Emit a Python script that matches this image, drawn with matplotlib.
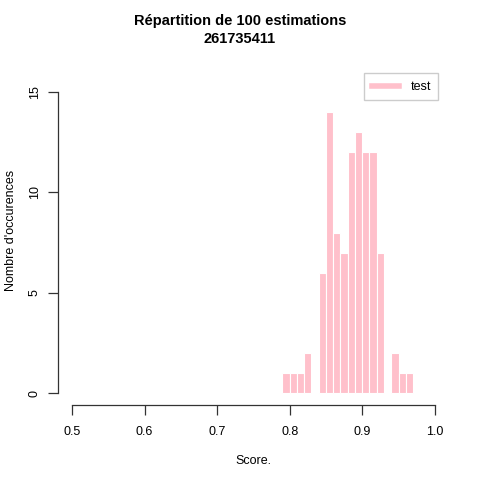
import numpy as np
import matplotlib
matplotlib.use('Agg')
import matplotlib.pyplot as plt
from matplotlib.lines import Line2D

plt.rcParams['font.family'] = ['Liberation Sans', 'DejaVu Sans']

# histogram bins (left edges) and counts
bin_left = [0.79, 0.80, 0.81, 0.82, 0.83, 0.84, 0.85, 0.86, 0.87,
            0.88, 0.89, 0.90, 0.91, 0.92, 0.93, 0.94, 0.95, 0.96]
counts = [1, 1, 1, 2, 0, 6, 14, 8, 7, 12, 13, 12, 12, 7, 0, 2, 1, 1]
bin_width = 0.01

xticks = [0.5, 0.6, 0.7, 0.8, 0.9, 1.0]
yticks = [0, 5, 10, 15]

fig = plt.figure(figsize=(4.8, 4.8), dpi=100)
ax = fig.add_axes([0.12, 0.156, 0.816, 0.677])

ax.bar(bin_left, counts, width=bin_width, align='edge',
       color='pink', edgecolor='white', linewidth=0.8)

ax.set_xlim(0.48, 1.02)
ax.set_ylim(-0.6, 15.6)

for s in ['top', 'right']:
    ax.spines[s].set_visible(False)
ax.spines['left'].set_bounds(0, 15)
ax.spines['bottom'].set_bounds(0.5, 1.0)
for s in ['left', 'bottom']:
    ax.spines[s].set_color('#333333')
    ax.spines[s].set_linewidth(0.9)

ax.set_xticks(xticks)
ax.set_xticklabels(['0.5', '0.6', '0.7', '0.8', '0.9', '1.0'])
ax.set_yticks(yticks)
ax.set_yticklabels([str(v) for v in yticks], rotation=90, va='center')
ax.tick_params(axis='both', length=7, width=0.9, color='#333333',
               labelsize=9)
ax.tick_params(axis='x', pad=8)
ax.tick_params(axis='y', pad=5)

ax.set_xlabel('Score.', fontsize=9, labelpad=12)
fig.text(0.022, 0.52, "Nombre d'occurences", fontsize=9, rotation=90,
         ha='center', va='center')
fig.text(0.5, 0.938, 'Répartition de 100 estimations\n261735411',
         fontsize=10.5, fontweight='bold', ha='center', va='center',
         linespacing=1.35)

handle = Line2D([0], [0], color='pink', linewidth=4)
leg = ax.legend([handle], ['test'], loc='upper right',
                bbox_to_anchor=(0.988, 1.04), fontsize=9, fancybox=False,
                framealpha=1, edgecolor='#cccccc', handlelength=2.2,
                borderpad=0.6, handletextpad=0.9)
leg.get_frame().set_linewidth(1.0)

fig.savefig('out.png', dpi=100)
